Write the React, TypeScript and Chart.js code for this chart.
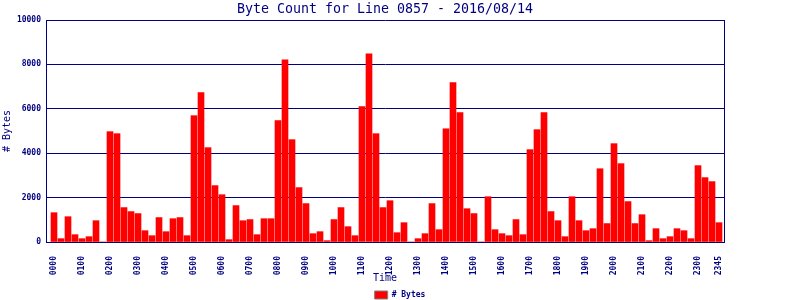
import React, { useEffect, useRef } from "react";
import { Chart, registerables } from "chart.js";

Chart.register(...registerables);

const NAVY = "#000080";
const BAR_RED = "#ff0000";

const TITLE = "Byte Count for Line 0857 - 2016/08/14";
const X_TITLE = "Time";
const Y_TITLE = "# Bytes";
const SERIES_LABEL = "# Bytes";

const times = [
  "0000", "0015", "0030", "0045", "0100", "0115", "0130", "0145",
  "0200", "0215", "0230", "0245", "0300", "0315", "0330", "0345",
  "0400", "0415", "0430", "0445", "0500", "0515", "0530", "0545",
  "0600", "0615", "0630", "0645", "0700", "0715", "0730", "0745",
  "0800", "0815", "0830", "0845", "0900", "0915", "0930", "0945",
  "1000", "1015", "1030", "1045", "1100", "1115", "1130", "1145",
  "1200", "1215", "1230", "1245", "1300", "1315", "1330", "1345",
  "1400", "1415", "1430", "1445", "1500", "1515", "1530", "1545",
  "1600", "1615", "1630", "1645", "1700", "1715", "1730", "1745",
  "1800", "1815", "1830", "1845", "1900", "1915", "1930", "1945",
  "2000", "2015", "2030", "2045", "2100", "2115", "2130", "2145",
  "2200", "2215", "2230", "2245", "2300", "2315", "2330", "2345",
];

const bytes = [
  1320, 150, 1140, 330, 150, 240, 960, 0,
  4970, 4880, 1550, 1370, 1280, 510, 285, 1100,
  465, 1050, 1100, 285, 5690, 6730, 4250, 2540,
  2130, 105, 1640, 960, 1010, 330, 1050, 1050,
  5470, 8210, 4610, 2450, 1730, 375, 465, 60,
  1010, 1550, 690, 285, 6100, 8480, 4880, 1550,
  1860, 420, 870, 0, 150, 375, 1730, 555,
  5100, 7180, 5830, 1500, 1280, 0, 2040, 555,
  375, 285, 1010, 330, 4160, 5060, 5830, 1370,
  960, 240, 2040, 960, 510, 600, 3300, 830,
  4430, 3530, 1820, 830, 1230, 60, 600, 150,
  240, 600, 510, 150, 3440, 2900, 2720, 870,
];

// x tick labels shown (every hour plus the last slot)
const xTickLabels = [
  "0000", "0100", "0200", "0300", "0400", "0500", "0600", "0700",
  "0800", "0900", "1000", "1100", "1200", "1300", "1400", "1500",
  "1600", "1700", "1800", "1900", "2000", "2100", "2200", "2300", "2345",
];

const yMin = 0;
const yMax = 10000;
const yStep = 2000;

const tickFont = { family: "'DejaVu Sans Mono', monospace", size: 8, weight: "bold" as const };
const axisTitleFont = { family: "'DejaVu Sans Mono', monospace", size: 10, weight: "normal" as const };

export default function App() {
  const canvasRef = useRef<HTMLCanvasElement | null>(null);

  useEffect(() => {
    if (!canvasRef.current) return;
    const tickIndexes = xTickLabels.map((t) => times.indexOf(t));
    const chart = new Chart(canvasRef.current, {
      type: "bar",
      data: {
        datasets: [
          {
            label: SERIES_LABEL,
            data: bytes.map((v, i) => ({ x: i, y: v })),
            backgroundColor: BAR_RED,
            borderWidth: 0,
            barThickness: 6,
          },
        ],
      },
      options: {
        responsive: false,
        animation: false,
        layout: { padding: { left: 0, right: 0, top: 0, bottom: -9 } },
        plugins: {
          title: {
            display: true,
            text: TITLE,
            color: NAVY,
            fullSize: false,
            font: { family: "'DejaVu Sans Mono', monospace", size: 13.3, weight: "normal" },
            padding: { top: 1.5, bottom: 2.54 },
          },
          legend: {
            display: true,
            position: "bottom",
            labels: {
              boxWidth: 13,
              boxHeight: 8,
              color: NAVY,
              font: tickFont,
              generateLabels: () => [
                {
                  text: SERIES_LABEL,
                  fillStyle: BAR_RED,
                  strokeStyle: "#808080",
                  lineWidth: 1,
                  hidden: false,
                  datasetIndex: 0,
                  fontColor: NAVY,
                },
              ],
            },
          },
          tooltip: { enabled: false },
        },
        scales: {
          x: {
            type: "linear",
            offset: false,
            min: -8 / 7,
            max: 670 / 7,
            grid: { display: false },
            border: { display: true, color: NAVY, width: 1 },
            afterBuildTicks: (scale: any) => {
              scale.ticks = tickIndexes.map((v) => ({ value: v }));
            },
            afterFit: (scale: any) => {
              scale.height = 39;
            },
            ticks: {
              autoSkip: false,
              minRotation: 90,
              maxRotation: 90,
              padding: 6,
              color: NAVY,
              font: tickFont,
              callback: (value: any) => times[Math.round(Number(value))],
            },
            title: {
              display: true,
              text: X_TITLE,
              color: NAVY,
              font: axisTitleFont,
              padding: { top: 0, bottom: -3.5 },
            },
          },
          y: {
            type: "linear",
            position: "left",
            min: yMin,
            max: yMax,
            grid: { color: NAVY, lineWidth: 1, drawTicks: false },
            border: { display: true, color: NAVY, width: 1 },
            afterFit: (scale: any) => {
              scale.width = 46;
            },
            ticks: {
              stepSize: yStep,
              padding: 5,
              color: NAVY,
              font: tickFont,
              callback: (value: any) => String(value),
            },
            title: {
              display: true,
              text: Y_TITLE,
              color: NAVY,
              font: axisTitleFont,
              padding: { top: 1.5, bottom: 0 },
            },
          },
          yRight: {
            type: "linear",
            position: "right",
            grid: { display: false, drawTicks: false },
            ticks: { display: false },
            border: { display: true, color: NAVY, width: 1 },
            afterFit: (scale: any) => {
              scale.width = 76;
            },
          },
        },
      } as any,
    });
    return () => chart.destroy();
  }, []);

  return (
    <div style={{ position: "absolute", left: 0, top: 0, width: 800, height: 300, background: "#ffffff" }}>
      <canvas ref={canvasRef} width={800} height={300} style={{ display: "block", width: 800, height: 300 }} />
    </div>
  );
}
